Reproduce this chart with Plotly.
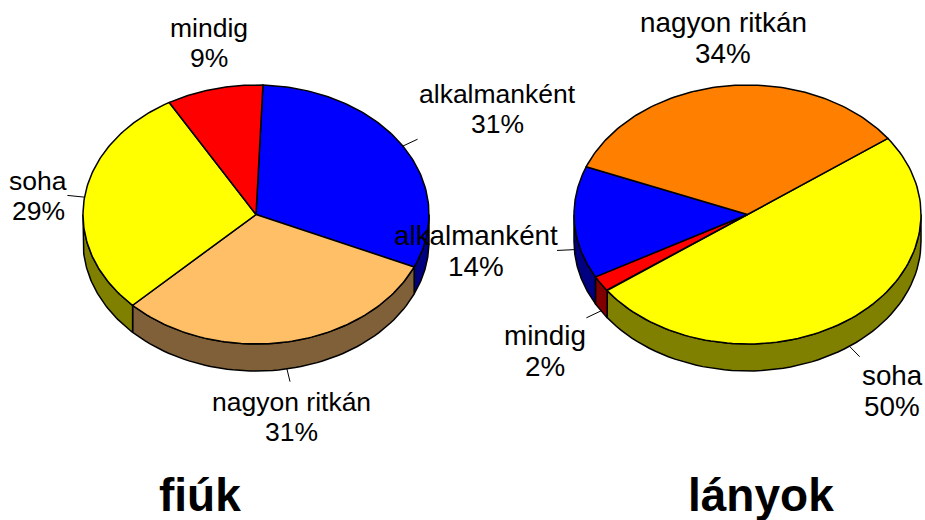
import numpy as np
import plotly.graph_objects as go

boys_labels = ["alkalmanként", "nagyon ritkán", "soha", "mindig"]
boys_values = [31, 31, 29, 9]
boys_colors = ["#0000ff", "#ffbf66", "#ffff00", "#ff0000"]
boys_sides = ["#000080", "#806038", "#808000", "#800000"]
boys_leader = [True, True, True, False]
boys_label_xy = [(497, 94), (291, 402), (38, 181), (209, 28)]

girls_labels = ["soha", "mindig", "alkalmanként", "nagyon ritkán"]
girls_values = [50, 2, 14, 34]
girls_colors = ["#ffff00", "#ff0000", "#0000ff", "#ff8000"]
girls_sides = ["#808000", "#800000", "#000080", "#804000"]
girls_leader = [True, True, True, False]
girls_label_xy = [(892, 375), (545, 335), (476, 235), (723, 22)]

titles = ["fiúk", "lányok"]
title_xy = [(200, 495), (761, 495)]

RY, DEPTH = 129.5, 27
FONT = "Liberation Sans, Arial, sans-serif"
fig = go.Figure()


def ell(cx, cy, rx, t):
    t = np.radians(t)
    return cx + rx * np.sin(t), cy - RY * np.cos(t)


def poly(x, y, color, lw=1.5):
    fig.add_trace(go.Scatter(x=list(x), y=list(y), mode="lines", fill="toself", fillcolor=color,
                             line=dict(color="black", width=lw), hoverinfo="skip", showlegend=False))


def pie(cx, cy, rx, start, values, colors, sides, leaders, labels, label_xy, size, gap):
    edges = start + np.cumsum([0] + values) * 3.6
    # side walls
    for i in range(len(values)):
        for a, b in ((edges[i], edges[i + 1]), (edges[i] - 360, edges[i + 1] - 360)):
            lo, hi = max(a, 90), min(b, 270)
            if hi > lo:
                t = np.linspace(lo, hi, 60)
                x, y = ell(cx, cy, rx, t)
                poly(np.r_[x, x[::-1], x[0]], np.r_[y, (y + DEPTH)[::-1], y[0]], sides[i])
    # top faces
    for i in range(len(values)):
        t = np.linspace(edges[i], edges[i + 1], 100)
        x, y = ell(cx, cy, rx, t)
        poly(np.r_[cx, x, cx], np.r_[cy, y, cy], colors[i])
    # leaders and labels
    lx, ly = [], []
    for i in range(len(values)):
        mid = (edges[i] + edges[i + 1]) / 2
        if leaders[i]:
            x0, y0 = ell(cx, cy, rx, mid)
            dx, dy = x0 - cx, y0 - cy
            off = DEPTH if dy > -1 else 0
            lx += [x0, cx + dx * 1.1, None]
            ly += [y0 + off, cy + dy * 1.1 + off, None]
        for k, s in enumerate((labels[i], f"{values[i]}%")):
            fig.add_annotation(x=label_xy[i][0], y=label_xy[i][1] + k * gap, text=s,
                               showarrow=False, align="center", xanchor="center", yanchor="middle",
                               font=dict(family=FONT, size=size, color="black"))
    fig.add_trace(go.Scatter(x=lx, y=ly, mode="lines", line=dict(color="black", width=1),
                             hoverinfo="skip", showlegend=False))


pie(256, 214.5, 173, 2.3, boys_values, boys_colors, boys_sides, boys_leader, boys_labels, boys_label_xy, 26.5, 29.8)
pie(747.5, 214.5, 173.5, 54, girls_values, girls_colors, girls_sides, girls_leader, girls_labels, girls_label_xy, 27.8, 31)

for s, (x, y) in zip(titles, title_xy):
    fig.add_annotation(x=x, y=y, text=f"<b>{s}</b>", showarrow=False, xanchor="center", yanchor="middle",
                       font=dict(family=FONT, size=46, color="black"))

fig.update_layout(width=925, height=520, margin=dict(l=0, r=0, t=0, b=0),
                  paper_bgcolor="white", plot_bgcolor="white", showlegend=False,
                  xaxis=dict(range=[0, 925], visible=False, fixedrange=True),
                  yaxis=dict(range=[520, 0], visible=False, fixedrange=True))
fig.write_html("out.html", config={"displayModeBar": False},
               post_script="document.body.style.margin='0';document.body.style.overflow='hidden';")
